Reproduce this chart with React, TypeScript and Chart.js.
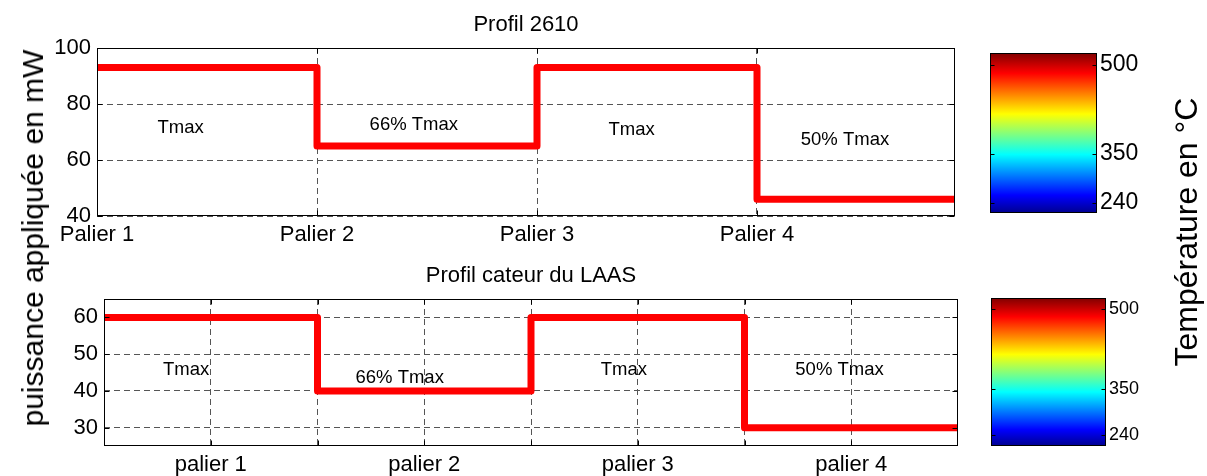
import React, { useEffect, useRef } from 'react';
import { Chart, registerables } from 'chart.js';

Chart.register(...registerables);

const FONT = '"Liberation Sans", Arial, Helvetica, sans-serif';

// ---------- Top subplot: Profil 2610 ----------
const topTitle = 'Profil 2610';
const topStepStart = [1, 2, 3, 4];
const topPower = [93, 65, 93, 46];
const topXMin = 1;
const topXMax = 4.9;
const topXTicks = [1, 2, 3, 4];
const topXLabels = ['Palier 1', 'Palier 2', 'Palier 3', 'Palier 4'];
const topYTicks = [40, 60, 80, 100];
const topYMin = 40;
const topYMax = 100;
const topNotes = ['Tmax', '66% Tmax', 'Tmax', '50% Tmax'];
const topNoteX = [1.38, 2.44, 3.43, 4.4];
const topNoteY = [71.3, 72.5, 70.7, 67.1];

// ---------- Bottom subplot: Profil cateur du LAAS ----------
const botTitle = 'Profil cateur du LAAS';
const botStepStart = [0, 2, 4, 6];
const botPower = [60, 40, 60, 30];
const botXMin = 0;
const botXMax = 8;
const botXTicks = [1, 2, 3, 4, 5, 6, 7];
const botXLabelTicks = [1, 3, 5, 7];
const botXLabels = ['palier 1', 'palier 2', 'palier 3', 'palier 4'];
const botYTicks = [30, 40, 50, 60];
const botYMin = 25;
const botYMax = 65;
const botNotes = ['Tmax', '66% Tmax', 'Tmax', '50% Tmax'];
const botNoteX = [0.77, 2.77, 4.87, 6.89];
const botNoteY = [45.8, 43.6, 45.6, 45.6];

// ---------- Colorbars ----------
const cbLabels = ['240', '350', '500'];
const cbTopLevels = [0.0625, 0.369, 0.925];
const cbBotLevels = [0.074, 0.385, 0.926];
const jetStops = [0, 0.111, 0.365, 0.619, 0.873, 1];
const jetColors = ['#00008f', '#0000ff', '#00ffff', '#ffff00', '#ff0000', '#800000'];

const yAxisLabel = 'puissance appliquée en mW';
const cbAxisLabel = 'Température en °C';

function stepPoints(starts: number[], levels: number[], xmax: number) {
  const pts = starts.map((x, i) => ({ x, y: levels[i] }));
  pts.push({ x: xmax, y: levels[levels.length - 1] });
  return pts;
}

const framePlugin = {
  id: 'frame',
  afterDraw(chart: any, _args: any, opts: any) {
    const { ctx, chartArea: a } = chart;
    const L = Math.round(a.left) + 0.5;
    const R = Math.round(a.right) - 0.5;
    const T = Math.round(a.top) + 0.5;
    const B = Math.round(a.bottom) - 0.5;
    ctx.save();
    ctx.strokeStyle = '#000';
    ctx.lineWidth = 1;
    const len = opts.tickLen ?? 5;
    ctx.beginPath();
    if (opts.xTicks && chart.scales.x) {
      const xs = chart.scales.x;
      xs.ticks.forEach((t: any) => {
        const px = Math.round(xs.getPixelForValue(t.value)) + 0.5;
        ctx.moveTo(px, B);
        ctx.lineTo(px, B - len);
        ctx.moveTo(px, T);
        ctx.lineTo(px, T + len);
      });
    }
    const ys = chart.scales.y;
    ys.ticks.forEach((t: any) => {
      const py = Math.round(ys.getPixelForValue(t.value)) + 0.5;
      ctx.moveTo(L, py);
      ctx.lineTo(L + len, py);
      ctx.moveTo(R, py);
      ctx.lineTo(R - len, py);
    });
    ctx.stroke();
    ctx.strokeRect(L, T, R - L, B - T);
    if (opts.notes) {
      const xs = chart.scales.x;
      ctx.fillStyle = '#000';
      ctx.font = `${opts.noteSize}px ${FONT}`;
      ctx.textAlign = 'center';
      ctx.textBaseline = 'middle';
      opts.notes.forEach((n: string, i: number) => {
        ctx.fillText(n, xs.getPixelForValue(opts.noteX[i]), ys.getPixelForValue(opts.noteY[i]));
      });
    }
    ctx.restore();
  },
};

function subplotConfig(p: any) {
  return {
    type: 'line',
    data: {
      datasets: [
        {
          data: stepPoints(p.starts, p.levels, p.xMax),
          borderColor: '#ff0000',
          borderWidth: 7,
          stepped: 'before',
          pointRadius: 0,
          borderJoinStyle: 'round',
          fill: false,
        },
      ],
    },
    options: {
      responsive: false,
      animation: false,
      devicePixelRatio: 1,
      layout: { autoPadding: false, padding: { left: p.padLeft, right: p.padRight, top: 0, bottom: 0 } },
      plugins: {
        legend: { display: false },
        tooltip: { enabled: false },
        title: {
          display: true,
          fullSize: false,
          text: p.title,
          color: '#000',
          font: { family: FONT, size: 22, weight: 'normal', lineHeight: 1.2 },
          padding: { top: p.titleTop, bottom: p.titleBottom },
        },
        frame: { xTicks: true, notes: p.notes, noteX: p.noteX, noteY: p.noteY, noteSize: 18.5, tickLen: 5 },
      },
      scales: {
        x: {
          type: 'linear',
          min: p.xMin,
          max: p.xMax,
          afterBuildTicks: (s: any) => {
            s.ticks = p.xTicks.map((v: number) => ({ value: v }));
          },
          afterFit: (s: any) => {
            s.height = p.xAxisH;
          },
          ticks: {
            autoSkip: false,
            maxRotation: 0,
            color: '#000',
            padding: p.xTickPad,
            font: { family: FONT, size: p.tickSize },
            callback: (v: number) => p.xLabel(v),
          },
          grid: { color: '#555', lineWidth: 1, drawTicks: false },
          border: { display: false, dash: [6, 4] },
        },
        y: {
          type: 'linear',
          min: p.yMin,
          max: p.yMax,
          afterBuildTicks: (s: any) => {
            s.ticks = p.yTicks.map((v: number) => ({ value: v }));
          },
          afterFit: (s: any) => {
            s.width = 60;
          },
          ticks: {
            color: '#000',
            padding: 6,
            font: { family: FONT, size: p.tickSize },
          },
          grid: { color: '#555', lineWidth: 1, drawTicks: false },
          border: { display: false, dash: [6, 4] },
        },
      },
    },
    plugins: [framePlugin],
  };
}

function jetGradient(chart: any) {
  const a = chart.chartArea;
  if (!a) return '#00ffff';
  const g = chart.ctx.createLinearGradient(0, a.bottom, 0, a.top);
  jetStops.forEach((s, i) => g.addColorStop(s, jetColors[i]));
  return g;
}

function colorbarConfig(p: any) {
  return {
    type: 'bar',
    data: {
      labels: [''],
      datasets: [
        {
          data: [[0, 1]],
          backgroundColor: (c: any) => jetGradient(c.chart),
          borderWidth: 0,
          barPercentage: 1,
          categoryPercentage: 1,
        },
      ],
    },
    options: {
      responsive: false,
      animation: false,
      devicePixelRatio: 1,
      layout: { autoPadding: false, padding: { left: p.padLeft, right: p.padRight, top: p.padTop, bottom: p.padBottom } },
      plugins: {
        legend: { display: false },
        tooltip: { enabled: false },
        frame: { xTicks: false, tickLen: 4 },
      },
      scales: {
        x: { display: false },
        y: {
          position: 'right',
          min: 0,
          max: 1,
          afterBuildTicks: (s: any) => {
            s.ticks = p.levels.map((v: number) => ({ value: v }));
          },
          afterFit: (s: any) => {
            s.width = 50;
          },
          ticks: {
            color: '#000',
            padding: 3,
            font: { family: FONT, size: p.fontSize },
            callback: (_v: number, i: number) => cbLabels[i],
          },
          grid: { display: false, drawTicks: false },
          border: { display: false },
        },
      },
    },
    plugins: [framePlugin],
  };
}

function ChartBox({ config, left, top, width, height }: any) {
  const ref = useRef<HTMLCanvasElement>(null);
  useEffect(() => {
    const chart = new Chart(ref.current as HTMLCanvasElement, config);
    return () => chart.destroy();
  }, []);
  return (
    <canvas
      ref={ref}
      width={width}
      height={height}
      style={{ position: 'absolute', left, top, width, height }}
    />
  );
}

const topConfig = subplotConfig({
  title: topTitle,
  starts: topStepStart,
  levels: topPower,
  xMin: topXMin,
  xMax: topXMax,
  xTicks: topXTicks,
  xLabel: (v: number) => {
    const i = topXTicks.indexOf(v);
    return i >= 0 ? topXLabels[i] : '';
  },
  yMin: topYMin,
  yMax: topYMax,
  yTicks: topYTicks,
  notes: topNotes,
  noteX: topNoteX,
  noteY: topNoteY,
  padLeft: 37,
  padRight: 25,
  titleTop: 11.3,
  titleBottom: 10.3,
  xAxisH: 34,
  xTickPad: 6,
  tickSize: 22,
});

const botConfig = subplotConfig({
  title: botTitle,
  starts: botStepStart,
  levels: botPower,
  xMin: botXMin,
  xMax: botXMax,
  xTicks: botXTicks,
  xLabel: (v: number) => {
    const i = botXLabelTicks.indexOf(v);
    return i >= 0 ? botXLabels[i] : '';
  },
  yMin: botYMin,
  yMax: botYMax,
  yTicks: botYTicks,
  notes: botNotes,
  noteX: botNoteX,
  noteY: botNoteY,
  padLeft: 44,
  padRight: 22,
  titleTop: 12.8,
  titleBottom: 9.8,
  xAxisH: 30,
  xTickPad: 6,
  tickSize: 22,
});

const cbTopConfig = colorbarConfig({ levels: cbTopLevels, fontSize: 23, padLeft: 30, padRight: 13, padTop: 23, padBottom: 17 });
const cbBotConfig = colorbarConfig({ levels: cbBotLevels, fontSize: 18, padLeft: 31, padRight: 4, padTop: 18, padBottom: 14 });

export default function App() {
  const vLabel: React.CSSProperties = {
    position: 'absolute',
    whiteSpace: 'nowrap',
    fontFamily: FONT,
    color: '#000',
    transform: 'translate(-50%, -50%) rotate(-90deg)',
    lineHeight: 1,
  };
  return (
    <div style={{ position: 'absolute', left: 0, top: 0, width: 1207, height: 476, background: '#fff', overflow: 'hidden' }}>
      <ChartBox config={topConfig} left={0} top={0} width={980} height={250} />
      <ChartBox config={botConfig} left={0} top={250} width={980} height={226} />
      <ChartBox config={cbTopConfig} left={960} top={30} width={200} height={200} />
      <ChartBox config={cbBotConfig} left={960} top={280} width={200} height={180} />
      <div style={{ ...vLabel, fontSize: 30, left: 33, top: 238 }}>{yAxisLabel}</div>
      <div style={{ ...vLabel, fontSize: 32, left: 1186, top: 232 }}>{cbAxisLabel}</div>
    </div>
  );
}
